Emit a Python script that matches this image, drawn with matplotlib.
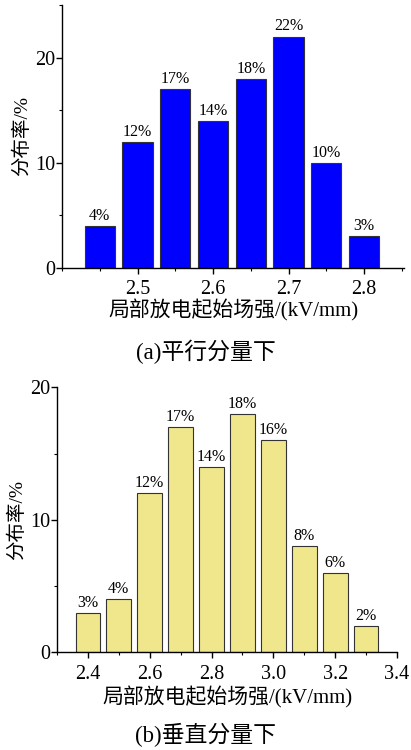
import matplotlib.pyplot as plt
from matplotlib.ticker import MultipleLocator

# data
a_bins = [2.45, 2.50, 2.55, 2.60, 2.65, 2.70, 2.75, 2.80]
a_vals = [4, 12, 17, 14, 18, 22, 10, 3]
b_bins = [2.4, 2.5, 2.6, 2.7, 2.8, 2.9, 3.0, 3.1, 3.2, 3.3]
b_vals = [3, 4, 12, 17, 14, 18, 16, 8, 6, 2]

fam = ['Liberation Serif', 'Noto Sans CJK SC']
plt.rcParams['font.family'] = fam
plt.rcParams['axes.unicode_minus'] = False

fig = plt.figure(figsize=(4.11, 7.5), dpi=100)
ax1 = fig.add_axes([0.151, 0.6427, 0.832, 0.3506])
ax2 = fig.add_axes([0.1387, 0.1303, 0.8273, 0.3533])


def style(ax):
    for s in ['top', 'right']:
        ax.spines[s].set_visible(False)
    for s in ['left', 'bottom']:
        ax.spines[s].set_linewidth(1.0)
    ax.tick_params(which='major', direction='out', length=4, width=1, labelsize=14.5)
    ax.tick_params(which='minor', direction='out', length=2.5, width=0.8)
    ax.tick_params(axis='x', pad=5)
    ax.tick_params(axis='y', pad=1)
    ax.yaxis.set_major_locator(MultipleLocator(10))
    ax.yaxis.set_minor_locator(MultipleLocator(5))


# (a)
ax1.bar(a_bins, a_vals, width=0.04, color='#0000FF', edgecolor='#333333', linewidth=0.8)
for x, v in zip(a_bins, a_vals):
    ax1.text(x, v + 0.2, f'{v}%', ha='center', va='bottom', fontsize=11.5)
ax1.set_xlim(2.4, 2.853)
ax1.set_ylim(0, 25)
style(ax1)
ax1.xaxis.set_major_locator(MultipleLocator(0.1))
ax1.xaxis.set_minor_locator(MultipleLocator(0.05))
ax1.set_xticks([2.5, 2.6, 2.7, 2.8])
ax1.set_xlabel('局部放电起始场强/(kV/mm)', fontsize=15, labelpad=0)
ax1.set_ylabel('分布率/%', fontsize=14, labelpad=3)

# (b)
ax2.bar(b_bins, b_vals, width=0.08, color='#F0E68C', edgecolor='#333333', linewidth=0.8)
for x, v in zip(b_bins, b_vals):
    ax2.text(x, v + 0.15, f'{v}%', ha='center', va='bottom', fontsize=11.5)
ax2.set_xlim(2.3, 3.4)
ax2.set_ylim(0, 20)
style(ax2)
ax2.xaxis.set_major_locator(MultipleLocator(0.2))
ax2.xaxis.set_minor_locator(MultipleLocator(0.1))
ax2.set_xticklabels([f'{t:.1f}' for t in ax2.get_xticks()])
ax2.set_xlim(2.3, 3.4)
ax2.set_xlabel('局部放电起始场强/(kV/mm)', fontsize=15, labelpad=2)
ax2.set_ylabel('分布率/%', fontsize=14, labelpad=3)

fig.text(0.5, 1 - 352 / 750, '(a)平行分量下', ha='center', va='center', fontsize=16.5)
fig.text(0.5, 1 - 735 / 750, '(b)垂直分量下', ha='center', va='center', fontsize=16.5)

fig.savefig('out.png', dpi=100)
